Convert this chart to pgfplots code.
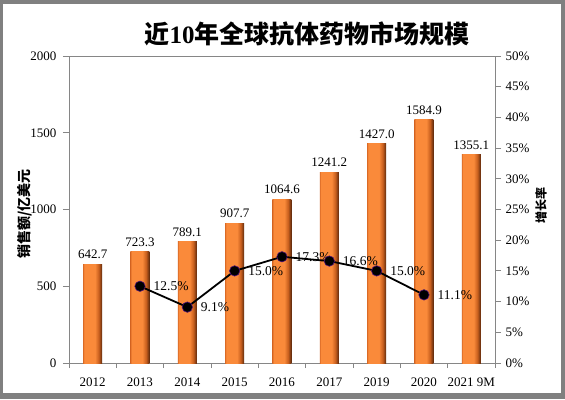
\documentclass[border=0pt]{standalone}
\usepackage{pgfplots}
\pgfplotsset{compat=1.18}
\usepackage{fontspec}
\setmainfont{Liberation Serif}
\newfontfamily\cjk{Noto Sans CJK SC}
\definecolor{frameg}{RGB}{128,128,128}
\definecolor{axg}{RGB}{134,134,134}
\definecolor{bL}{RGB}{222,110,40}
\definecolor{bM}{RGB}{250,138,58}
\definecolor{bD1}{RGB}{200,95,30}
\definecolor{bD2}{RGB}{90,40,12}
\definecolor{mk}{RGB}{80,20,120}
\pgfdeclarehorizontalshading{barshade}{100bp}{color(0bp)=(bL); color(25bp)=(bL); color(28bp)=(bM); color(56bp)=(bM); color(66bp)=(bD1); color(75bp)=(bD2); color(100bp)=(bD2)}
\begin{document}
\begin{tikzpicture}
\useasboundingbox (0,0) rectangle (565pt,399pt);
\fill[frameg] (0,0) rectangle (565pt,399pt);
\fill[white] (3pt,6pt) rectangle (561pt,395pt);
\node[font=\fontsize{25}{30}\selectfont\bfseries] at (307pt,365pt) {{\cjk 近}10{\cjk 年全球抗体药物市场规模}};
\node[rotate=90,font=\fontsize{14}{16}\selectfont\bfseries\cjk] at (25pt,185pt) {销售额/亿美元};
\node[rotate=90,font=\fontsize{12}{14}\selectfont\bfseries\cjk] at (541pt,193pt) {增长率};
\begin{axis}[
  at={(69pt,36pt)}, anchor=south west,
  scale only axis, width=426pt, height=307pt,
  xmin=-0.5, xmax=8.5, ymin=0, ymax=2000,
  ytick={0,500,1000,1500,2000},
  xtick={0,...,8},
  xticklabels={2012,2013,2014,2015,2016,2017,2019,2020,2021 9M},
  minor xtick={-0.5,0.5,...,8.5},
  major x tick style={draw=none},
  minor tick length=5pt,
  major tick length=6pt,
  tick align=outside,
  xtick pos=bottom, ytick pos=left,
  axis line style={draw=axg, line width=0.8pt},
  tick style={draw=axg, line width=0.8pt},
  ticklabel style={font=\fontsize{13}{15}\selectfont},
  xticklabel style={yshift=-5pt},
  yticklabel style={xshift=-3pt},
  /pgf/number format/assume math mode=true,
  /pgf/number format/1000 sep={},
  ybar, bar width=19pt, bar shift=0pt,
  every axis plot/.append style={draw=none, shading=barshade},
  nodes near coords={\pgfmathprintnumber[fixed,fixed zerofill,precision=1,1000 sep={}]{\pgfplotspointmeta}},
  nodes near coords style={font=\fontsize{13}{15}\selectfont, anchor=south, yshift=2pt, text=black},
]
\addplot coordinates {(0,642.7)};
\addplot coordinates {(1,723.3)};
\addplot coordinates {(2,789.1)};
\addplot coordinates {(3,907.7)};
\addplot coordinates {(4,1064.6)};
\addplot coordinates {(5,1241.2)};
\addplot coordinates {(6,1427.0)};
\addplot coordinates {(7,1584.9)};
\addplot coordinates {(8,1355.1)};
\end{axis}
\begin{axis}[
  at={(69pt,36pt)}, anchor=south west,
  scale only axis, width=426pt, height=307pt,
  xmin=-0.5, xmax=8.5, ymin=0, ymax=50,
  axis x line=none, axis y line*=right,
  ytick={0,5,...,50},
  yticklabel={\pgfmathprintnumber{\tick}\%},
  major tick length=6pt,
  tick align=outside,
  axis line style={draw=axg, line width=0.8pt},
  tick style={draw=axg, line width=0.8pt},
  ticklabel style={font=\fontsize{13}{15}\selectfont},
  yticklabel style={xshift=1pt},
  /pgf/number format/assume math mode=true,
  nodes near coords={\pgfmathprintnumber[fixed,fixed zerofill,precision=1]{\pgfplotspointmeta}\%},
  nodes near coords style={font=\fontsize{13.5}{15}\selectfont, anchor=west, xshift=10pt, text=black},
]
\addplot[black, line width=1.8pt, mark=*, mark size=5.2pt, mark options={fill=black, draw=mk, line width=0.6pt}] coordinates {(1,12.5) (2,9.1) (3,15.0) (4,17.3) (5,16.6) (6,15.0) (7,11.1)};
\end{axis}
\end{tikzpicture}
\end{document}
